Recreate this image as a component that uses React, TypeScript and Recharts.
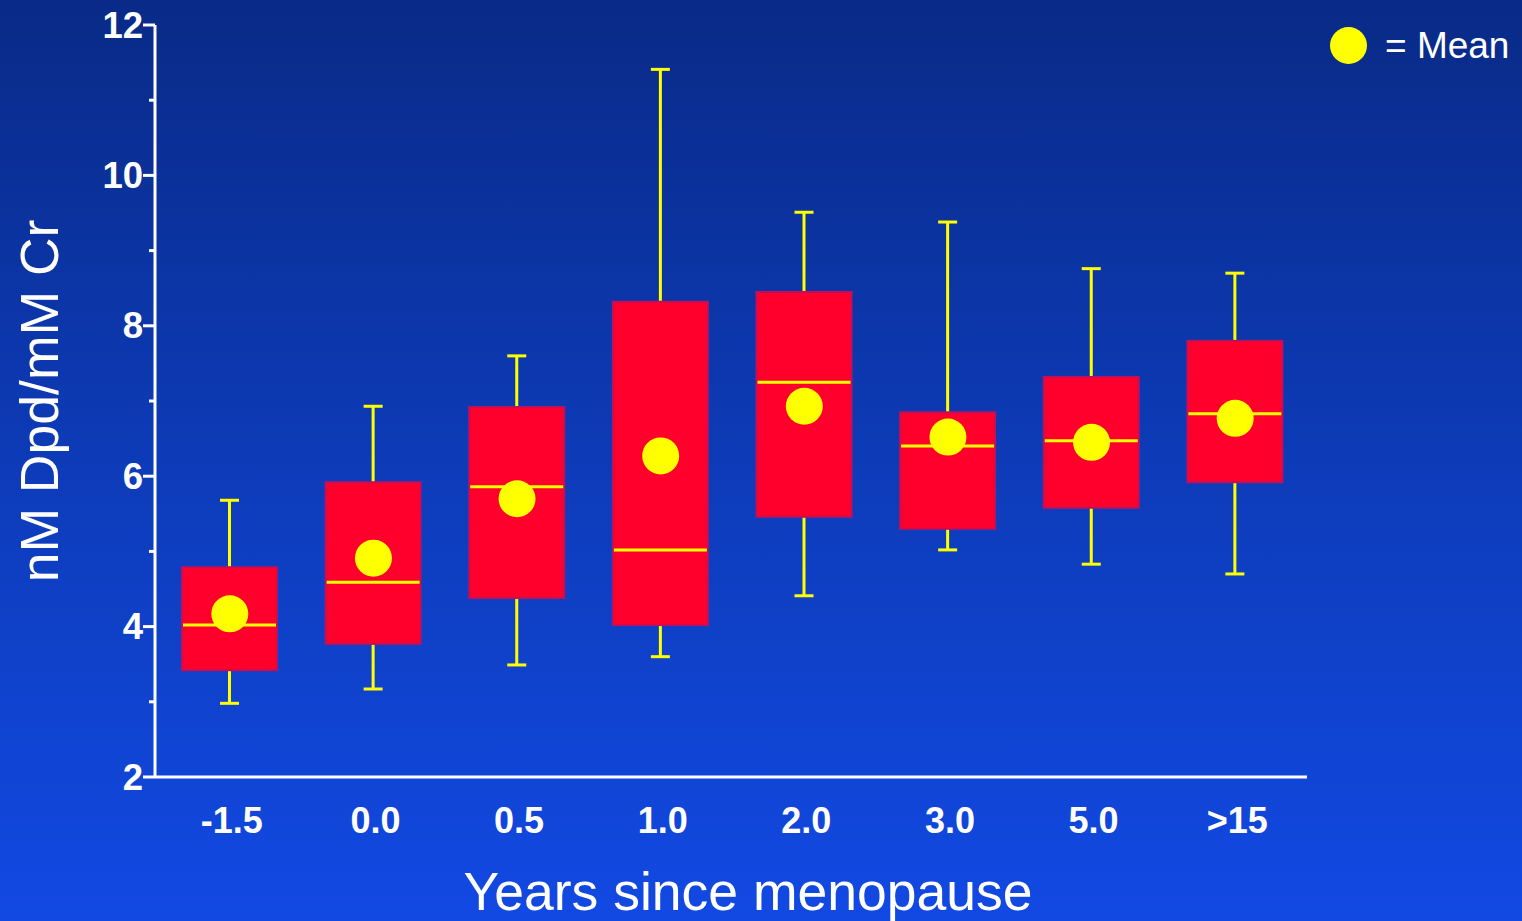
import React from 'react';
import { ComposedChart, Bar, Scatter, XAxis, YAxis } from 'recharts';

const categories = ['-1.5', '0.0', '0.5', '1.0', '2.0', '3.0', '5.0', '>15'];
const whiskerLow = [2.98, 3.17, 3.49, 3.6, 4.41, 5.02, 4.83, 4.7];
const q1 = [3.42, 3.77, 4.38, 4.02, 5.46, 5.3, 5.58, 5.92];
const median = [4.02, 4.59, 5.86, 5.02, 7.25, 6.4, 6.47, 6.83];
const q3 = [4.79, 5.92, 6.92, 8.32, 8.45, 6.85, 7.32, 7.8];
const whiskerHigh = [5.68, 6.93, 7.6, 11.41, 9.51, 9.38, 8.76, 8.7];
const means = [4.17, 4.91, 5.7, 6.27, 6.93, 6.52, 6.45, 6.77];
const yTicks = [2, 3, 4, 5, 6, 7, 8, 9, 10, 11, 12];

const FONT = "Arial, 'Liberation Sans', sans-serif";
const YELLOW = '#ffff00';
const BOX_RED = '#ff002c';

const data = categories.map((cat, i) => ({
  cat,
  low: whiskerLow[i],
  q1: q1[i],
  median: median[i],
  q3: q3[i],
  high: whiskerHigh[i],
  mean: means[i],
}));

// box + whiskers, pixel/value ratio taken from the bar the library laid out
const BoxShape = (props: any) => {
  const { x, y, width, height, payload } = props;
  if (!payload || !height) return null;
  const k = height / (payload.q3 - payload.q1);
  const cx = x + width / 2;
  const yOf = (v: number) => y + (payload.q3 - v) * k;
  const cap = 9.5;
  return (
    <g>
      <line x1={cx} x2={cx} y1={yOf(payload.high)} y2={y} stroke={YELLOW} strokeWidth={3} />
      <line x1={cx - cap} x2={cx + cap} y1={yOf(payload.high)} y2={yOf(payload.high)} stroke={YELLOW} strokeWidth={3} />
      <line x1={cx} x2={cx} y1={y + height} y2={yOf(payload.low)} stroke={YELLOW} strokeWidth={3} />
      <line x1={cx - cap} x2={cx + cap} y1={yOf(payload.low)} y2={yOf(payload.low)} stroke={YELLOW} strokeWidth={3} />
      <rect x={x} y={y} width={width} height={height} fill={BOX_RED} stroke="#c0105a" strokeWidth={2} />
      <line x1={x + 1} x2={x + width - 1} y1={yOf(payload.median)} y2={yOf(payload.median)} stroke={YELLOW} strokeWidth={3} />
    </g>
  );
};

const YTick = (props: any) => {
  const { x, y, payload } = props;
  const major = payload.value % 2 === 0;
  return (
    <g>
      <line x1={major ? x - 12 : x - 6} x2={x} y1={y} y2={y} stroke="#fff" strokeWidth={3} />
      {major && (
        <text x={x - 12} y={y + 12.5} textAnchor="end" fill="#fff" fontSize={36.5} fontWeight="bold" fontFamily={FONT}>
          {payload.value}
        </text>
      )}
    </g>
  );
};

const XTick = (props: any) => {
  const { x, y, payload } = props;
  return (
    <text x={x + 2} y={y + 56} textAnchor="middle" fill="#fff" fontSize={36} fontWeight="bold" fontFamily={FONT}>
      {payload.value}
    </text>
  );
};

export default function App() {
  return (
    <div
      style={{
        position: 'absolute',
        left: 0,
        top: 0,
        width: 1522,
        height: 921,
        background: 'linear-gradient(to bottom, #092a87 0%, #0d3bb8 50%, #1249e3 100%)',
        overflow: 'hidden',
      }}
    >
      <ComposedChart width={1522} height={921} data={data} margin={{ top: 25, right: 215, bottom: 0, left: 0 }}>
        <XAxis
          dataKey="cat"
          height={144}
          padding={{ left: 3, right: 0 }}
          axisLine={{ stroke: '#fff', strokeWidth: 3 }}
          tickLine={false}
          tickSize={0}
          tickMargin={0}
          tick={<XTick />}
          interval={0}
          label={() => (
            <text x={748} y={910} textAnchor="middle" fill="#fff" fontSize={53.5} fontFamily={FONT}>
              Years since menopause
            </text>
          )}
        />
        <YAxis
          type="number"
          domain={[2, 12]}
          ticks={yTicks}
          interval={0}
          width={155}
          allowDataOverflow
          axisLine={{ stroke: '#fff', strokeWidth: 3 }}
          tickLine={false}
          tickSize={0}
          tickMargin={0}
          tick={<YTick />}
          label={() => (
            <text
              x={58}
              y={401}
              transform="rotate(-90 58 401)"
              textAnchor="middle"
              fill="#fff"
              fontSize={53.5}
              fontFamily={FONT}
            >
              nM Dpd/mM Cr
            </text>
          )}
        />
        <Bar dataKey={(d: any) => [d.q1, d.q3]} barSize={95} shape={<BoxShape />} isAnimationActive={false} />
        <Scatter
          dataKey="mean"
          isAnimationActive={false}
          shape={(p: any) => <circle cx={p.cx} cy={p.cy} r={18.5} fill={YELLOW} />}
        />
      </ComposedChart>
      <div
        style={{
          position: 'absolute',
          left: 1330,
          top: 27,
          display: 'flex',
          alignItems: 'center',
          fontFamily: FONT,
          fontSize: 37,
          color: '#fff',
        }}
      >
        <span style={{ width: 37, height: 37, borderRadius: '50%', background: YELLOW, display: 'inline-block' }} />
        <span style={{ marginLeft: 18, lineHeight: '37px' }}>= Mean</span>
      </div>
    </div>
  );
}
